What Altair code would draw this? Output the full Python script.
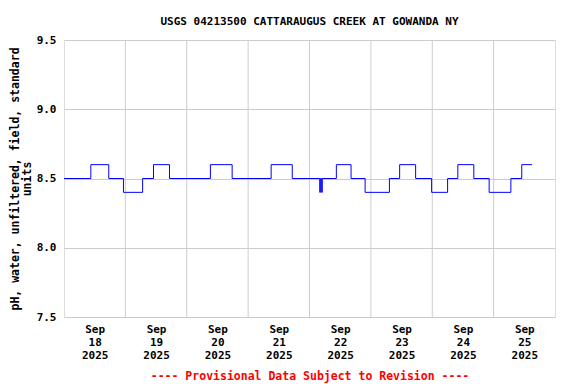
import altair as alt
import pandas as pd

# Step transitions: time at which each value starts
times = [
    "2025-09-18T00:00", "2025-09-18T10:30", "2025-09-18T17:30", "2025-09-18T23:15",
    "2025-09-19T06:45", "2025-09-19T11:00", "2025-09-19T17:15",
    "2025-09-20T09:15", "2025-09-20T17:45",
    "2025-09-21T09:00", "2025-09-21T17:15",
    "2025-09-22T04:00", "2025-09-22T04:15", "2025-09-22T04:45", "2025-09-22T05:00",
    "2025-09-22T10:30", "2025-09-22T16:15", "2025-09-22T21:45",
    "2025-09-23T07:15", "2025-09-23T11:15", "2025-09-23T17:30", "2025-09-23T23:45",
    "2025-09-24T06:00", "2025-09-24T10:00", "2025-09-24T16:15", "2025-09-24T22:15",
    "2025-09-25T06:45", "2025-09-25T11:00", "2025-09-25T15:00",
]
values = [
    8.5, 8.6, 8.5, 8.4,
    8.5, 8.6, 8.5,
    8.6, 8.5,
    8.6, 8.5,
    8.4, 8.5, 8.4, 8.5,
    8.6, 8.5, 8.4,
    8.5, 8.6, 8.5, 8.4,
    8.5, 8.6, 8.5, 8.4,
    8.5, 8.6, 8.6,
]
grid_days = ["2025-09-19T00:00", "2025-09-20T00:00", "2025-09-21T00:00", "2025-09-22T00:00",
             "2025-09-23T00:00", "2025-09-24T00:00", "2025-09-25T00:00"]
label_days = [18, 19, 20, 21, 22, 23, 24, 25]
y_ticks = [7.5, 8.0, 8.5, 9.0, 9.5]

df = pd.DataFrame({"t": times, "v": values})
gdf = pd.DataFrame({"t": grid_days})

FONT = "DejaVu Sans Mono"

xscale = alt.Scale(domain=[alt.DateTime(year=2025, month=9, date=18, hours=0),
                           alt.DateTime(year=2025, month=9, date=26, hours=0)], nice=False)
yscale = alt.Scale(domain=[7.5, 9.5], nice=False, zero=False)

xaxis = alt.Axis(
    values=[alt.DateTime(year=2025, month=9, date=d, hours=12) for d in label_days],
    labelExpr="[timeFormat(datum.value, '%b'), timeFormat(datum.value, '%d'), timeFormat(datum.value, '%Y')]",
    grid=False, ticks=False, domain=False,
    labelFont=FONT, labelFontWeight="bold", labelFontSize=11, labelColor="black",
    labelLineHeight=13, labelPadding=6, labelFlush=False,
    title="---- Provisional Data Subject to Revision ----",
    titleFont=FONT, titleFontWeight="bold", titleFontSize=11.5, titleColor="red",
    titlePadding=10,
)
yaxis = alt.Axis(
    values=y_ticks, format=".1f", grid=True, gridColor="#cccccc", ticks=False, domain=False,
    labelFont=FONT, labelFontWeight="bold", labelFontSize=11, labelColor="black", labelPadding=8,
    title=["pH, water, unfiltered, field, standard", "units"],
    titleFont=FONT, titleFontWeight="bold", titleFontSize=11.5, titleColor="black",
    titleLineHeight=12, titlePadding=4,
)

rules = alt.Chart(gdf).mark_rule(color="#cccccc", strokeWidth=1).encode(
    x=alt.X("t:T", scale=xscale, axis=xaxis)
)
line = alt.Chart(df).mark_line(color="#0000ff", strokeWidth=1, interpolate="step-after").encode(
    x=alt.X("t:T", scale=xscale, axis=xaxis),
    y=alt.Y("v:Q", scale=yscale, axis=yaxis),
)

chart = alt.layer(rules, line).properties(
    width=491, height=277,
    autosize=alt.AutoSizeParams(type="none"),
    padding={"left": 56, "top": 32, "right": 13, "bottom": 67},
    title=alt.TitleParams("USGS 04213500 CATTARAUGUS CREEK AT GOWANDA NY",
                          font=FONT, fontWeight="bold", fontSize=11, color="black",
                          anchor="middle", offset=7),
).configure_view(stroke="black", strokeWidth=1).configure(background="white")

chart.save("out.html", embed_options={"renderer": "svg", "actions": False})
